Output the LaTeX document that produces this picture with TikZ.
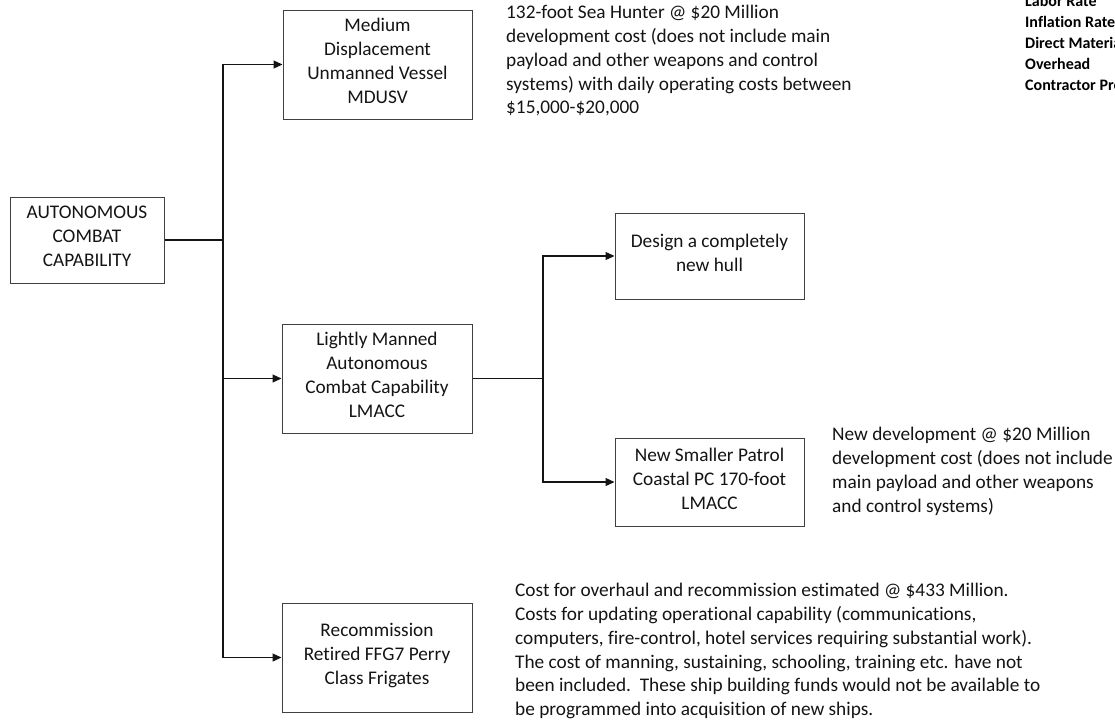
\documentclass[tikz,border=0pt]{standalone}
\usepackage{fontspec}
\setmainfont{Carlito}[Ligatures=CommonOff]
\usetikzlibrary{arrows.meta}
\definecolor{boxgray}{RGB}{64,64,64}
\definecolor{linec}{RGB}{20,20,20}
\definecolor{txt}{RGB}{20,20,20}
\begin{document}
\begin{tikzpicture}[x=1pt,y=-1pt,
  body/.style={font=\fontsize{19.3}{23.9}\selectfont, text=txt},
  box/.style={body, draw=boxgray, line width=1pt, inner sep=0pt, align=center,
    execute at begin node=\strut, execute at end node=\strut},
  note/.style={body, anchor=north west, inner sep=0pt, align=left,
    execute at begin node=\strut, execute at end node=\strut},
  side/.style={anchor=north west, inner sep=0pt, align=left, text=black,
    font=\fontsize{16}{21}\selectfont\bfseries,
    execute at begin node=\strut, execute at end node=\strut},
  conn/.style={draw=linec, line width=1.2pt},
  arr/.style={conn, -{Triangle[length=9pt,width=8pt]}}]
\useasboundingbox (0,0) rectangle (1115,721);
\clip (0,0) rectangle (1115,721);

% boxes
\node[box, minimum width=154pt, minimum height=86pt] (acc) at (87,240)
  {AUTONOMOUS\\COMBAT\\CAPABILITY};
\node[box, minimum width=189pt, minimum height=109pt] (mdusv) at (377.5,64.5)
  {Medium\\Displacement\\Unmanned Vessel\\MDUSV};
\node[box, minimum width=190pt, minimum height=109pt] (lmacc) at (377,378.5)
  {Lightly Manned\\Autonomous\\Combat Capability\\LMACC};
\node[box, minimum width=190pt, minimum height=109pt] (recomm) at (377,657.5)
  {Recommission\\Retired FFG7 Perry\\Class Frigates};
\node[box, minimum width=189pt, minimum height=86pt] (design) at (709.5,256)
  {Design a completely\\new hull};
\node[box, minimum width=189pt, minimum height=88pt] (newsm) at (709.5,482)
  {New Smaller Patrol\\Coastal PC 170-foot\\LMACC};

% notes
\node[note] (n1) at (506,4.7)
  {132-foot Sea Hunter @ \$20 Million\\development cost (does not include main\\payload and other weapons and control\\systems) with daily operating costs between\\\$15,000-\$20,000};
\node[note] (n2) at (832,426.7)
  {New development @ \$20 Million\\development cost (does not include\\main payload and other weapons\\and control systems)};
\node[note] (n3) at (515,582.7)
  {Cost for overhaul and recommission estimated @ \$433 Million.\\Costs for updating operational capability (communications,\\computers, fire-control, hotel services requiring substantial work).\\The cost of manning, sustaining, schooling, training etc. have not\\been included.\ \ These ship building funds would not be available to\\be programmed into acquisition of new ships.};
\node[side] (n4) at (1025,-4.7)
  {Labor Rate\\Inflation Rate\\Direct Material\\Overhead\\Contractor Profit};

% connectors
\coordinate (j1) at (223,240);
\coordinate (j2) at (543,378.5);
\draw[conn] (acc.east) -- (j1);
\draw[arr] (j1) |- (mdusv.west);
\draw[arr] (j1) |- (lmacc.west);
\draw[arr] (j1) |- (recomm.west);
\draw[conn] (lmacc.east) -- (j2);
\draw[arr] (j2) |- (design.west);
\draw[arr] (j2) |- (newsm.west);
\end{tikzpicture}
\end{document}
